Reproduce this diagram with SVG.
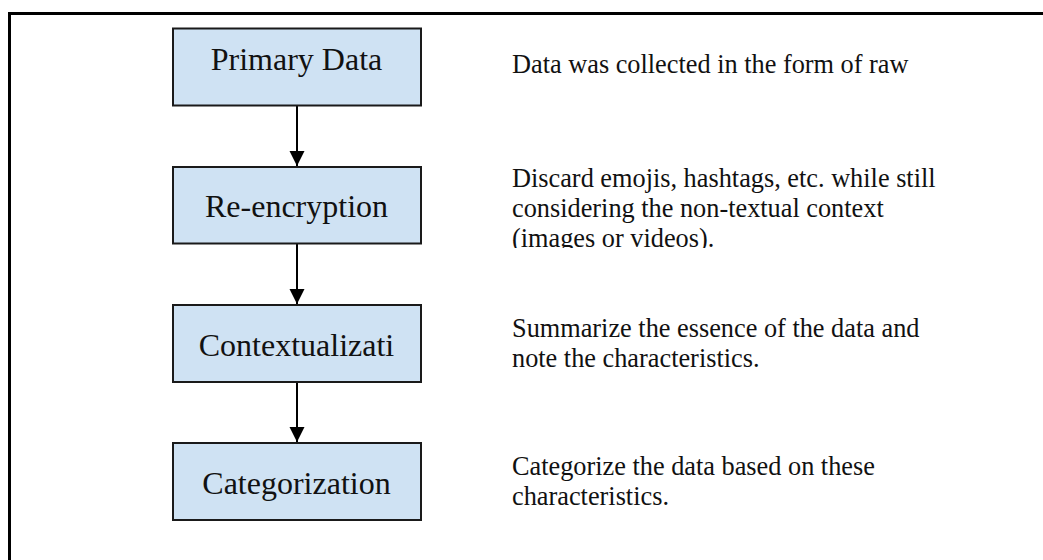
<svg xmlns="http://www.w3.org/2000/svg" width="1043" height="560" viewBox="0 0 1043 560">
<style>
.box{fill:#cfe2f3;stroke:#1a1a1a;stroke-width:2}
.lbl{font-family:"Liberation Serif","Times New Roman",serif;font-size:32px;fill:#111;text-anchor:middle}
.desc{font-family:"Liberation Serif","Times New Roman",serif;font-size:26.3px;fill:#111}
.conn{stroke:#000;stroke-width:2;fill:none}
</style>
<defs>
<marker id="arr" markerUnits="userSpaceOnUse" markerWidth="16" markerHeight="16" viewBox="0 0 16 16" refX="15" refY="8" orient="auto">
<path d="M0,0.5 L15,8 L0,15.5 Z" fill="#000"/>
</marker>
<clipPath id="clip2"><rect x="500" y="150" width="540" height="98"/></clipPath>
</defs>
<rect x="0" y="0" width="1043" height="560" fill="#fff"/>
<path d="M9.5,570 L9.5,13.5 L1050,13.5" fill="none" stroke="#000" stroke-width="3"/>
<g id="connectors">
<line class="conn" x1="297" y1="106" x2="297" y2="166" marker-end="url(#arr)"/>
<line class="conn" x1="297" y1="244" x2="297" y2="304" marker-end="url(#arr)"/>
<line class="conn" x1="297" y1="382" x2="297" y2="442" marker-end="url(#arr)"/>
</g>
<g id="node-primary">
<rect class="box" x="173" y="28.5" width="248" height="77"/>
<text class="lbl" x="296.5" y="70">Primary Data</text>
</g>
<g id="node-reencryption">
<rect class="box" x="173" y="167" width="248" height="76.5"/>
<text class="lbl" x="296.5" y="217">Re-encryption</text>
</g>
<g id="node-contextualization">
<rect class="box" x="173" y="305" width="248" height="77"/>
<text class="lbl" x="296.5" y="356">Contextualizati</text>
</g>
<g id="node-categorization">
<rect class="box" x="173" y="443" width="248" height="77"/>
<text class="lbl" x="296.5" y="494">Categorization</text>
</g>
<g id="desc-primary">
<text class="desc" x="512" y="73">Data was collected in the form of raw</text>
</g>
<g id="desc-reencryption" clip-path="url(#clip2)">
<text class="desc" x="512" y="186.7">Discard emojis, hashtags, etc. while still</text>
<text class="desc" x="512" y="216.7">considering the non-textual context</text>
<text class="desc" x="512" y="246.7">(images or videos).</text>
</g>
<g id="desc-contextualization">
<text class="desc" x="512" y="336.7">Summarize the essence of the data and</text>
<text class="desc" x="512" y="366.7">note the characteristics.</text>
</g>
<g id="desc-categorization">
<text class="desc" x="512" y="475">Categorize the data based on these</text>
<text class="desc" x="512" y="505">characteristics.</text>
</g>
</svg>
